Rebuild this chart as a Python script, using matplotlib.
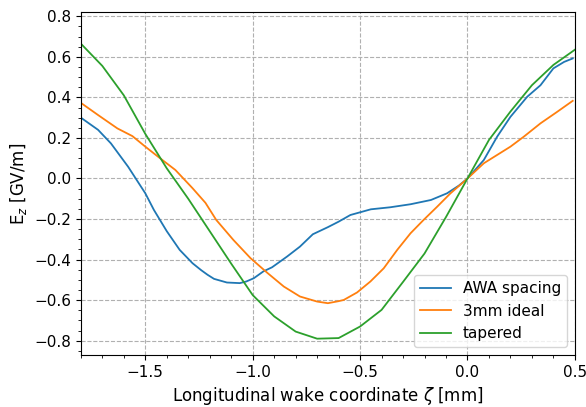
import numpy as np
import matplotlib.pyplot as plt
from matplotlib.ticker import MultipleLocator

# AWA spacing (blue)
awa_x = [-1.80, -1.72, -1.66, -1.58, -1.50, -1.46, -1.40, -1.34, -1.28, -1.24, -1.21,
         -1.18, -1.12, -1.06, -1.03, -0.995, -0.95, -0.91, -0.84, -0.78, -0.72, -0.65,
         -0.60, -0.545, -0.45, -0.36, -0.265, -0.17, -0.095, -0.04, 0.0, 0.076, 0.138,
         0.20, 0.278, 0.34, 0.40, 0.45, 0.49]
awa_y = [0.30, 0.24, 0.173, 0.058, -0.073, -0.155, -0.26, -0.352, -0.418, -0.452, -0.475,
         -0.495, -0.513, -0.516, -0.508, -0.492, -0.458, -0.438, -0.385, -0.336, -0.275, -0.24,
         -0.213, -0.18, -0.152, -0.142, -0.127, -0.106, -0.073, -0.035, 0.0, 0.091, 0.206,
         0.304, 0.403, 0.46, 0.543, 0.575, 0.592]

# 3mm ideal (orange)
ideal_x = [-1.80, -1.72, -1.63, -1.56, -1.50, -1.44, -1.36, -1.28, -1.22, -1.17, -1.09,
           -1.01, -0.93, -0.855, -0.78, -0.70, -0.65, -0.60, -0.576, -0.514, -0.452, -0.39,
           -0.327, -0.265, -0.204, -0.141, -0.079, -0.017, 0.0, 0.076, 0.138, 0.20, 0.262,
           0.34, 0.418, 0.49]
ideal_y = [0.373, 0.313, 0.247, 0.209, 0.157, 0.107, 0.042, -0.048, -0.12, -0.204, -0.303,
           -0.393, -0.467, -0.533, -0.582, -0.607, -0.615, -0.605, -0.599, -0.562, -0.508, -0.443,
           -0.352, -0.27, -0.204, -0.139, -0.073, -0.016, 0.0, 0.075, 0.116, 0.157, 0.206,
           0.272, 0.329, 0.383]

# tapered (green)
tap_x = [-1.8, -1.7, -1.6, -1.5, -1.4, -1.3, -1.2, -1.1, -1.0, -0.9, -0.8, -0.7,
         -0.6, -0.5, -0.4, -0.3, -0.2, -0.1, 0.0, 0.1, 0.2, 0.3, 0.4, 0.5]
tap_y = [0.665, 0.555, 0.41, 0.22, 0.05, -0.10, -0.26, -0.42, -0.575, -0.68, -0.755, -0.79,
         -0.787, -0.73, -0.648, -0.51, -0.37, -0.19, 0.0, 0.19, 0.33, 0.46, 0.56, 0.635]

fig, ax = plt.subplots(figsize=(5.86, 4.07), dpi=100)
ax.plot(awa_x, awa_y, color='tab:blue', lw=1.3, label='AWA spacing')
ax.plot(ideal_x, ideal_y, color='tab:orange', lw=1.3, label='3mm ideal')
ax.plot(tap_x, tap_y, color='tab:green', lw=1.3, label='tapered')

ax.set_xlim(-1.8, 0.5)
ax.set_ylim(-0.87, 0.82)
ax.xaxis.set_major_locator(MultipleLocator(0.5))
ax.xaxis.set_minor_locator(MultipleLocator(0.1))
ax.yaxis.set_major_locator(MultipleLocator(0.2))
ax.yaxis.set_minor_locator(MultipleLocator(0.05))
ax.tick_params(labelsize=11)
ax.grid(True, ls='--', color='#b0b0b0', lw=0.8)
ax.set_xlabel(r'Longitudinal wake coordinate $\zeta$ [mm]', fontsize=12)
ax.set_ylabel(r'E$_z$ [GV/m]', fontsize=12)
ax.legend(loc='lower right', fontsize=11)

fig.subplots_adjust(left=0.138, right=0.981, top=0.97, bottom=0.128)
fig.savefig('out.png')
